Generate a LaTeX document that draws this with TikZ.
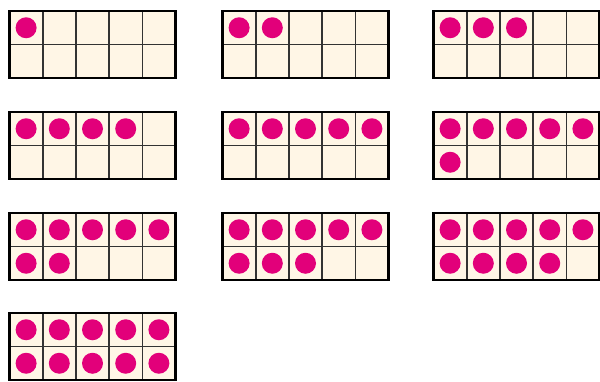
\documentclass[tikz,border=0pt]{standalone}
\usetikzlibrary{calc}

\definecolor{framefill}{HTML}{FFF6E6}
\definecolor{dotpink}{HTML}{E2007A}
\definecolor{gridgray}{HTML}{333333}

\tikzset{
  frameedge/.style={line width=2.8pt,black},
  cellline/.style={line width=1.6pt,gridgray},
  counter/.style={fill=dotpink}
}

\begin{document}
\begin{tikzpicture}[x=1pt,y=-1pt]
  \useasboundingbox (0,0) rectangle (600,381);
  \def\cw{33.2}
  \def\ch{33.5}
  \foreach \n/\fx/\fy in {1/9.5/11, 2/222.5/11, 3/433.5/11,
                          4/9.5/112, 5/222.5/112, 6/433.5/112,
                          7/9.5/213, 8/222.5/213, 9/433.5/213,
                          10/9.5/313} {
    \fill[framefill] (\fx,\fy) rectangle ++(5*\cw,2*\ch);
    \foreach \i in {1,...,4}
      \draw[cellline] ({\fx+\i*\cw},\fy) -- ++(0,2*\ch);
    \draw[cellline] (\fx,{\fy+\ch}) -- ++(5*\cw,0);
    \draw[frameedge] (\fx,\fy) rectangle ++(5*\cw,2*\ch);
    % counters, filled row by row
    \foreach \k in {1,...,\n} {
      \pgfmathtruncatemacro\col{mod(\k-1,5)}
      \pgfmathtruncatemacro\row{(\k-1)/5}
      \fill[counter] ({\fx+(\col+0.5)*\cw},{\fy+(\row+0.5)*\ch}) circle (10.5);
    }
  }
\end{tikzpicture}
\end{document}
